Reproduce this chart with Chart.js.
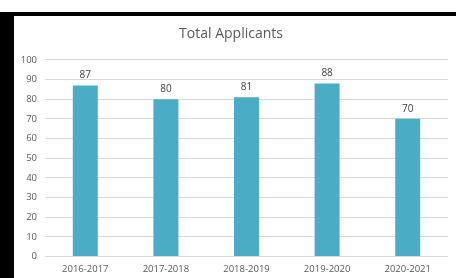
<!DOCTYPE html>
<html>
<head>
<meta charset="utf-8">
<script src="https://cdn.jsdelivr.net/npm/chart.js@4/dist/chart.umd.min.js"></script>
<style>
html,body{margin:0;padding:0;background:#fff;width:456px;height:278px;overflow:hidden;}
#frame{position:absolute;left:0;top:12px;width:442px;height:262px;border-top:4px solid #000;border-left:14px solid #000;background:#fff;}
#wrap{position:absolute;left:0;top:0;width:442px;height:262px;}
</style>
</head>
<body>
<div id="frame"><div id="wrap"><canvas id="c"></canvas></div></div>
<script>
const categories = ['2016-2017','2017-2018','2018-2019','2019-2020','2020-2021'];
const applicants = [87, 80, 81, 88, 70];
const yTicks = [0,10,20,30,40,50,60,70,80,90,100];

const labelPlugin = {
  id: 'barLabels',
  afterDatasetsDraw(chart) {
    const ctx = chart.ctx;
    const meta = chart.getDatasetMeta(0);
    ctx.save();
    ctx.fillStyle = '#404040';
    ctx.font = '10px "Open Sans"';
    ctx.textAlign = 'center';
    ctx.textBaseline = 'bottom';
    meta.data.forEach((bar, i) => {
      ctx.fillText(String(chart.data.datasets[0].data[i]), bar.x, bar.y - 5);
    });
    ctx.restore();
  }
};

new Chart(document.getElementById('c'), {
  type: 'bar',
  data: {
    labels: categories,
    datasets: [{
      data: applicants,
      backgroundColor: '#4BACC6',
      borderWidth: 0,
      categoryPercentage: 1.0,
      barPercentage: 0.31
    }]
  },
  options: {
    responsive: true,
    maintainAspectRatio: false,
    animation: false,
    layout: { padding: { left: 0, right: 8, top: 0, bottom: 0 } },
    plugins: {
      legend: { display: false },
      tooltip: { enabled: false },
      title: {
        display: true,
        text: 'Total Applicants',
        color: '#595959',
        font: { family: 'Open Sans', size: 14, weight: 'normal' },
        padding: { top: 10, bottom: 17 }
      }
    },
    scales: {
      x: {
        grid: { display: false, drawTicks: false },
        border: { display: false },
        afterFit(scale) { scale.height = scale.height - 4; },
        ticks: { color: '#595959', font: { family: 'Open Sans', size: 9.5 }, padding: 7, maxRotation: 0 }
      },
      y: {
        min: 0, max: 100,
        afterBuildTicks(scale) { scale.ticks = yTicks.map(v => ({ value: v })); },
        afterFit(scale) { scale.width = 31; },
        grid: { color: '#d9d9d9', drawTicks: false },
        border: { display: false },
        ticks: { color: '#595959', font: { family: 'Open Sans', size: 9.5 }, padding: 8 }
      }
    }
  },
  plugins: [labelPlugin]
});
</script>
</body>
</html>
